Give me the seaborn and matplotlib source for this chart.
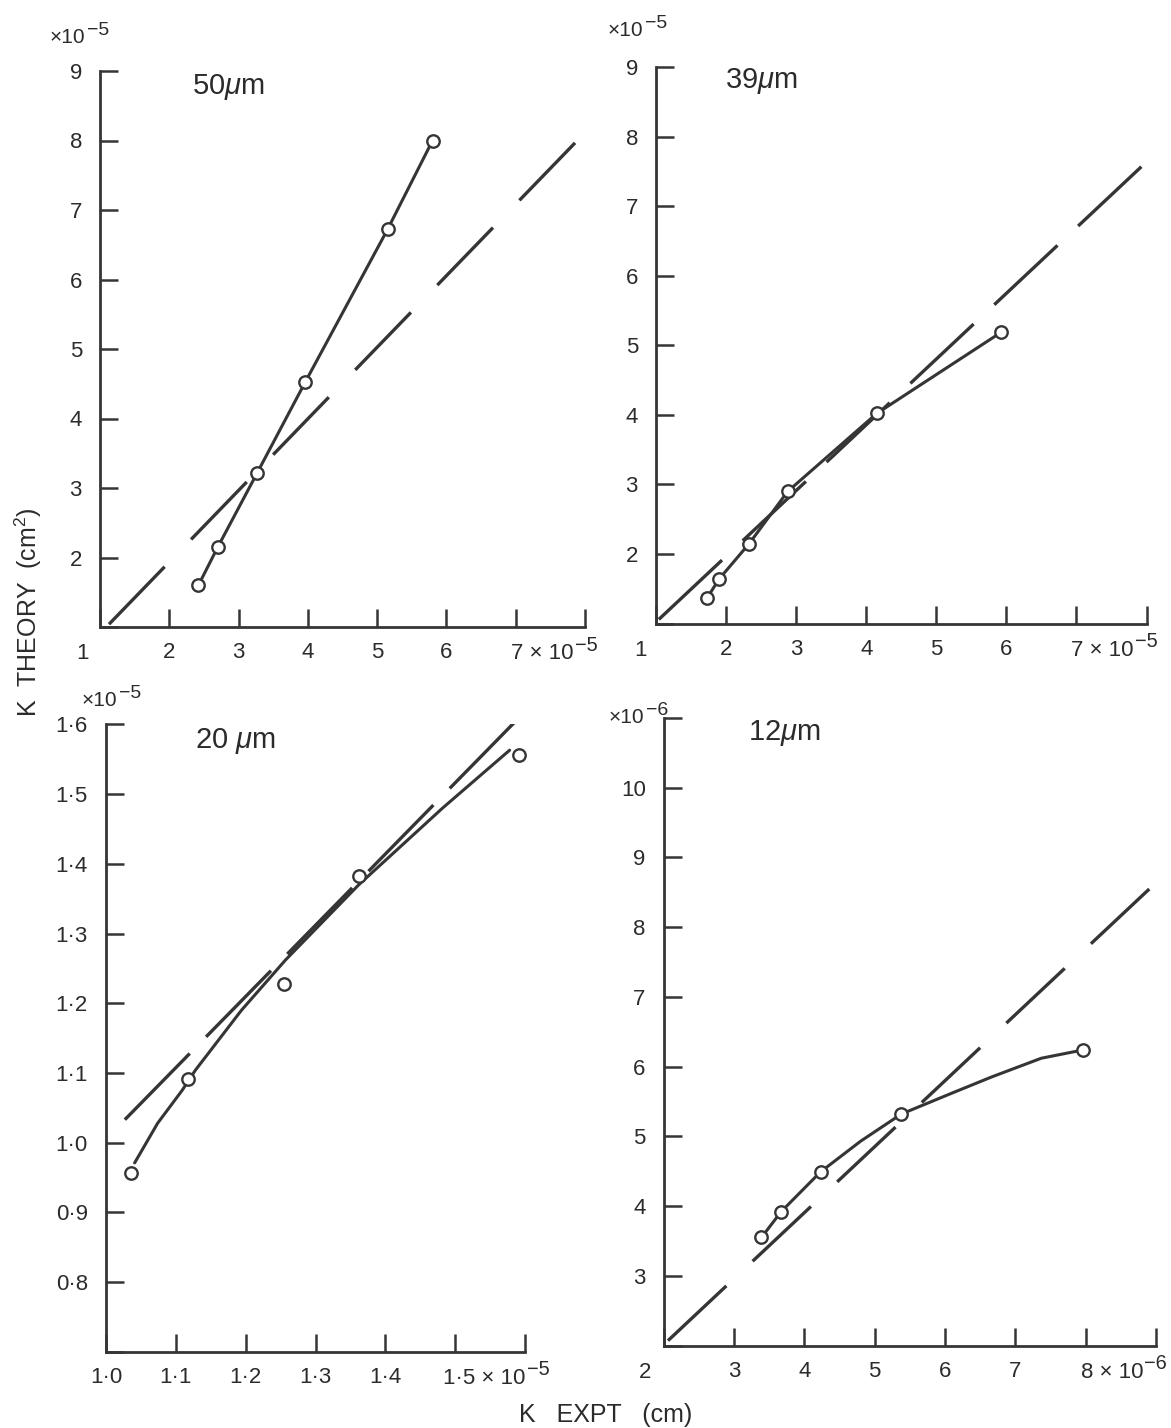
import matplotlib
matplotlib.use("Agg")
import matplotlib.pyplot as plt
import seaborn as sns

# ---- data ----
# 50 um
p50_x = [2.42, 2.70, 3.27, 3.96, 5.15, 5.80]
p50_y = [1.60, 2.15, 3.22, 4.52, 6.72, 8.00]
p50_ref_x = [1.13, 7.87]
p50_ref_y = [1.04, 7.98]

# 39 um
p39_x = [1.73, 1.90, 2.33, 2.88, 4.15, 5.93]
p39_y = [1.37, 1.64, 2.15, 2.90, 4.02, 5.19]
p39_ref_x = [1.04, 7.93]
p39_ref_y = [1.06, 7.57]

# 20 um
p20_x = [1.036, 1.118, 1.255, 1.362, 1.591]
p20_y = [0.957, 1.092, 1.228, 1.382, 1.556]
p20_fit_x = [1.041, 1.074, 1.109, 1.128, 1.194, 1.257, 1.362, 1.482, 1.578]
p20_fit_y = [0.971, 1.028, 1.075, 1.104, 1.190, 1.262, 1.370, 1.480, 1.563]
p20_ref_x = [1.027, 1.585]
p20_ref_y = [1.033, 1.603]

# 12 um
p12_x = [3.39, 3.67, 4.23, 5.38, 7.97]
p12_y = [3.55, 3.92, 4.49, 5.32, 6.24]
p12_fit_x = [3.39, 3.67, 4.23, 4.80, 5.38, 6.10, 6.66, 7.37, 7.97]
p12_fit_y = [3.55, 3.92, 4.49, 4.93, 5.32, 5.62, 5.85, 6.12, 6.24]
p12_ref_x = [2.06, 8.91]
p12_ref_y = [2.07, 8.55]

# ticks
big_xticks = [1, 2, 3, 4, 5, 6, 7, 8]
big_xlabels = ["", "2", "3", "4", "5", "6", "", ""]
big_yticks = [1, 2, 3, 4, 5, 6, 7, 8, 9]
big_ylabels = ["", "2", "3", "4", "5", "6", "7", "8", "9"]

p20_xticks = [1.0, 1.1, 1.2, 1.3, 1.4, 1.5, 1.6]
p20_xlabels = ["1·0", "1·1", "1·2", "1·3", "1·4", "", ""]
p20_yticks = [0.7, 0.8, 0.9, 1.0, 1.1, 1.2, 1.3, 1.4, 1.5, 1.6]
p20_ylabels = ["", "0·8", "0·9", "1·0", "1·1", "1·2", "1·3", "1·4", "1·5", "1·6"]

p12_xticks = [2, 3, 4, 5, 6, 7, 8, 9]
p12_xlabels = ["", "3", "4", "5", "6", "7", "", ""]
p12_yticks = [2, 3, 4, 5, 6, 7, 8, 9, 10, 11]
p12_ylabels = ["", "3", "4", "5", "6", "7", "8", "9", "10", ""]

INK = "#353535"
TXT = "#2b2b2b"
W, H = 1171, 1428
PX = 0.72  # pixels -> points at dpi 100
TICK_FS = 16
NARROW = ["Liberation Sans Narrow", "Liberation Sans", "DejaVu Sans"]
WIDE = ["Liberation Sans", "DejaVu Sans"]

sns.set_style("white")
plt.rcParams["font.family"] = NARROW
plt.rcParams["mathtext.fontset"] = "custom"
plt.rcParams["mathtext.rm"] = "Liberation Sans"
plt.rcParams["mathtext.it"] = "Liberation Sans:italic"
plt.rcParams["mathtext.bf"] = "Liberation Sans:bold"

fig = plt.figure(figsize=(W / 100, H / 100), dpi=100)


def px_axes(left, top, right, bottom):
    return fig.add_axes([left / W, 1 - bottom / H, (right - left) / W, (bottom - top) / H])


def note(ax, text, xy, dx, dy, size=TICK_FS, ha="left", va="baseline", family=None):
    # dx, dy in pixels relative to a data point
    return ax.annotate(text, xy=xy, xycoords="data", xytext=(dx * PX, dy * PX),
                       textcoords="offset points", ha=ha, va=va, fontsize=size,
                       color=TXT, annotation_clip=False, family=family or NARROW)


def sci(ax, base, power, xy, dx, dy, size=TICK_FS, psize=None):
    # base text plus a large raised exponent, like the lettering in the figure
    t = note(ax, base, xy, dx, dy, size=size)
    ax.annotate(power, xy=(1, 1), xycoords=t, xytext=(1, -1.5),
                textcoords="offset points", ha="left", va="center",
                fontsize=psize or size * 0.9, color=TXT, family=NARROW)


def panel(ax, px, py, fx, fy, rx, ry, xlim, ylim, xt, xl, yt, yl, dash):
    sns.lineplot(x=rx, y=ry, ax=ax, color=INK, linewidth=2.4,
                 estimator=None, sort=False)
    ax.lines[-1].set_linestyle((0, dash))
    sns.lineplot(x=fx, y=fy, ax=ax, color=INK, linewidth=2.2,
                 estimator=None, sort=False)
    sns.scatterplot(x=px, y=py, ax=ax, s=80, color="white", edgecolor=INK,
                    linewidth=1.7, zorder=4, clip_on=False)
    ax.set_xlim(*xlim)
    ax.set_ylim(*ylim)
    ax.set_xticks(xt, xl)
    ax.set_yticks(yt, yl)
    ax.tick_params(direction="in", length=13, width=1.8, color=INK,
                   labelcolor=TXT, labelsize=TICK_FS, pad=11,
                   bottom=True, left=True)
    ax.tick_params(axis="y", pad=13)
    sns.despine(ax=ax)
    for s in ("left", "bottom"):
        ax.spines[s].set_linewidth(2.0)
        ax.spines[s].set_color(INK)
    ax.set_facecolor("none")


TITLE = dict(size=21, family=WIDE)

# 50 um
ax1 = px_axes(100, 71, 585, 627)
panel(ax1, p50_x, p50_y, p50_x, p50_y, p50_ref_x, p50_ref_y, (1, 8), (1, 9),
      big_xticks, big_xlabels, big_yticks, big_ylabels, (24, 11.4))
note(ax1, "1", (1, 1), -17, -32, ha="center")
sci(ax1, "7 × 10", "−5", (7, 1), -5, -32)
sci(ax1, "×10", "−5", (1, 9), -50, 28, size=15, psize=14)
note(ax1, "50$\\mu$m", (1, 9), 92, -23, **TITLE)

# 39 um
ax2 = px_axes(656, 67, 1146.5, 623.6)
panel(ax2, p39_x, p39_y, p39_x, p39_y, p39_ref_x, p39_ref_y, (1, 8), (1, 9),
      big_xticks, big_xlabels, big_yticks, big_ylabels, (26, 8.5))
note(ax2, "1", (1, 1), -15, -32, ha="center")
sci(ax2, "7 × 10", "−5", (7, 1), -5, -32)
sci(ax2, "×10", "−5", (1, 9), -48, 31, size=15, psize=14)
note(ax2, "39$\\mu$m", (1, 9), 69, -21, **TITLE)

# 20 um
ax3 = px_axes(106, 724.4, 525, 1351.8)
panel(ax3, p20_x, p20_y, p20_fit_x, p20_fit_y, p20_ref_x, p20_ref_y,
      (1.0, 1.6), (0.7, 1.6), p20_xticks, p20_xlabels, p20_yticks, p20_ylabels,
      (27.8, 7))
sci(ax3, "1·5 × 10", "−5", (1.5, 0.7), -12, -32)
sci(ax3, "×10", "−5", (1.0, 1.6), -24, 18, size=15, psize=14)
note(ax3, "20 $\\mu$m", (1.0, 1.6), 89, -24, **TITLE)

# 12 um
ax4 = px_axes(663.8, 718, 1155.8, 1345.5)
panel(ax4, p12_x, p12_y, p12_fit_x, p12_fit_y, p12_ref_x, p12_ref_y,
      (2, 9), (2, 11), p12_xticks, p12_xlabels, p12_yticks, p12_ylabels,
      (24, 10.8))
note(ax4, "2", (2, 2), -19, -32, ha="center")
sci(ax4, "8 × 10", "−6", (8, 2), -5, -32)
sci(ax4, "×10", "−6", (2, 11), -55, -5, size=15, psize=14)
note(ax4, "12$\\mu$m", (2, 11), 84, -22, **TITLE)

fig.text(28 / W, 1 - 612 / H, "K  THEORY  (cm$^2$)", rotation=90,
         ha="center", va="center", fontsize=18, color=TXT, family=WIDE)
fig.text(606 / W, 1 - 1415 / H, "K   EXPT   (cm)", ha="center", va="center",
         fontsize=18, color=TXT, family=WIDE)

fig.savefig("out.png", dpi=100)
